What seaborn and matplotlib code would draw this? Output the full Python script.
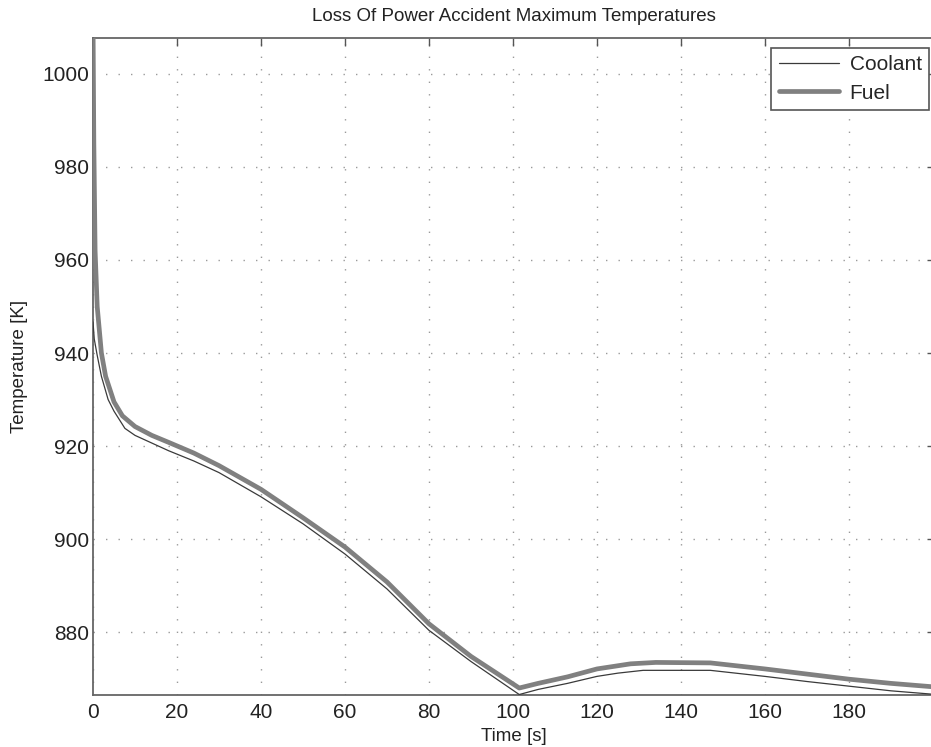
import numpy as np
import pandas as pd
import matplotlib
matplotlib.use("Agg")
import matplotlib.pyplot as plt
import seaborn as sns

fuel_t = [0, 0.2, 0.5, 1, 2, 3, 5, 7, 10, 14, 18, 24, 30, 40, 50, 60, 70, 80, 90,
          101.5, 106, 113, 120, 128, 134, 147, 156, 160, 170, 180, 190, 199.5]
fuel_T = [1012, 985, 962, 950, 940, 935, 929.5, 926.5, 924.2, 922.3, 920.8, 918.5,
          915.8, 910.7, 904.6, 898.3, 890.8, 881.8, 874.8, 868.0, 869.0, 870.4,
          872.1, 873.2, 873.5, 873.4, 872.5, 872.1, 871.0, 869.9, 869.0, 868.3]

cool_t = [0, 0.3, 1, 2, 3.6, 5, 7.6, 10, 18, 24, 30, 40, 50, 60, 70, 80, 90,
          101.5, 106, 113, 120, 125, 131, 147, 156, 160, 170, 180, 190, 199.5]
cool_T = [946.7, 943, 939.5, 935, 930, 927.5, 923.8, 922.3, 919.0, 916.8, 914.3,
          909.1, 903.3, 896.8, 889.3, 880.4, 873.7, 866.6, 867.7, 869.0, 870.5,
          871.2, 871.8, 871.8, 870.9, 870.5, 869.4, 868.4, 867.4, 866.7]

x_ticks = [0, 20, 40, 60, 80, 100, 120, 140, 160, 180]
y_ticks = [880, 900, 920, 940, 960, 980, 1000]

sns.set_style("white")
plt.rcParams['font.family'] = ['Liberation Sans', 'DejaVu Sans']

fig = plt.figure(figsize=(9.31, 7.47), dpi=100)
ax = fig.add_axes([93/931, 1 - 695/747, (935 - 93)/931, (695 - 38)/747])

df_c = pd.DataFrame({"t": cool_t, "T": cool_T})
df_f = pd.DataFrame({"t": fuel_t, "T": fuel_T})
sns.lineplot(data=df_c, x="t", y="T", ax=ax, color="#3a3a3a", linewidth=0.9,
             label="Coolant", zorder=3)
sns.lineplot(data=df_f, x="t", y="T", ax=ax, color="#808080", linewidth=3.4,
             label="Fuel", zorder=4)

ax.set_xlim(0, 200.5)
ax.set_ylim(866.5, 1007.7)
ax.set_xticks(x_ticks)
ax.set_yticks(y_ticks)
ax.tick_params(axis="both", direction="in", length=6, width=1.0, color="#555555",
               labelsize=15, labelcolor="#222222", top=True, right=True)
ax.tick_params(axis="y", pad=3)
ax.tick_params(axis="x", pad=6)
ax.grid(True, linestyle=(0, (1, 8)), color="#9a9a9a", linewidth=1.0)
for s in ax.spines.values():
    s.set_color("#666666")
    s.set_linewidth(1.3)

ax.set_xlabel("Time [s]", fontsize=13.5, color="#222222", labelpad=4)
ax.set_ylabel("Temperature [K]", fontsize=13.5, color="#222222", labelpad=10)
ax.set_title("Loss Of Power Accident Maximum Temperatures", fontsize=13.5,
             color="#222222", pad=12)

leg = ax.legend(loc="upper right", fontsize=15, frameon=True, fancybox=False,
                handlelength=2.9, borderpad=0.35, labelspacing=0.45,
                handletextpad=0.5, borderaxespad=0)
leg.set_bbox_to_anchor((929/931, 1 - 48/747), transform=fig.transFigure)
leg.get_frame().set_edgecolor("#555555")
leg.get_frame().set_linewidth(1.2)
leg.get_frame().set_alpha(1)

fig.savefig("out.png", dpi=100)
